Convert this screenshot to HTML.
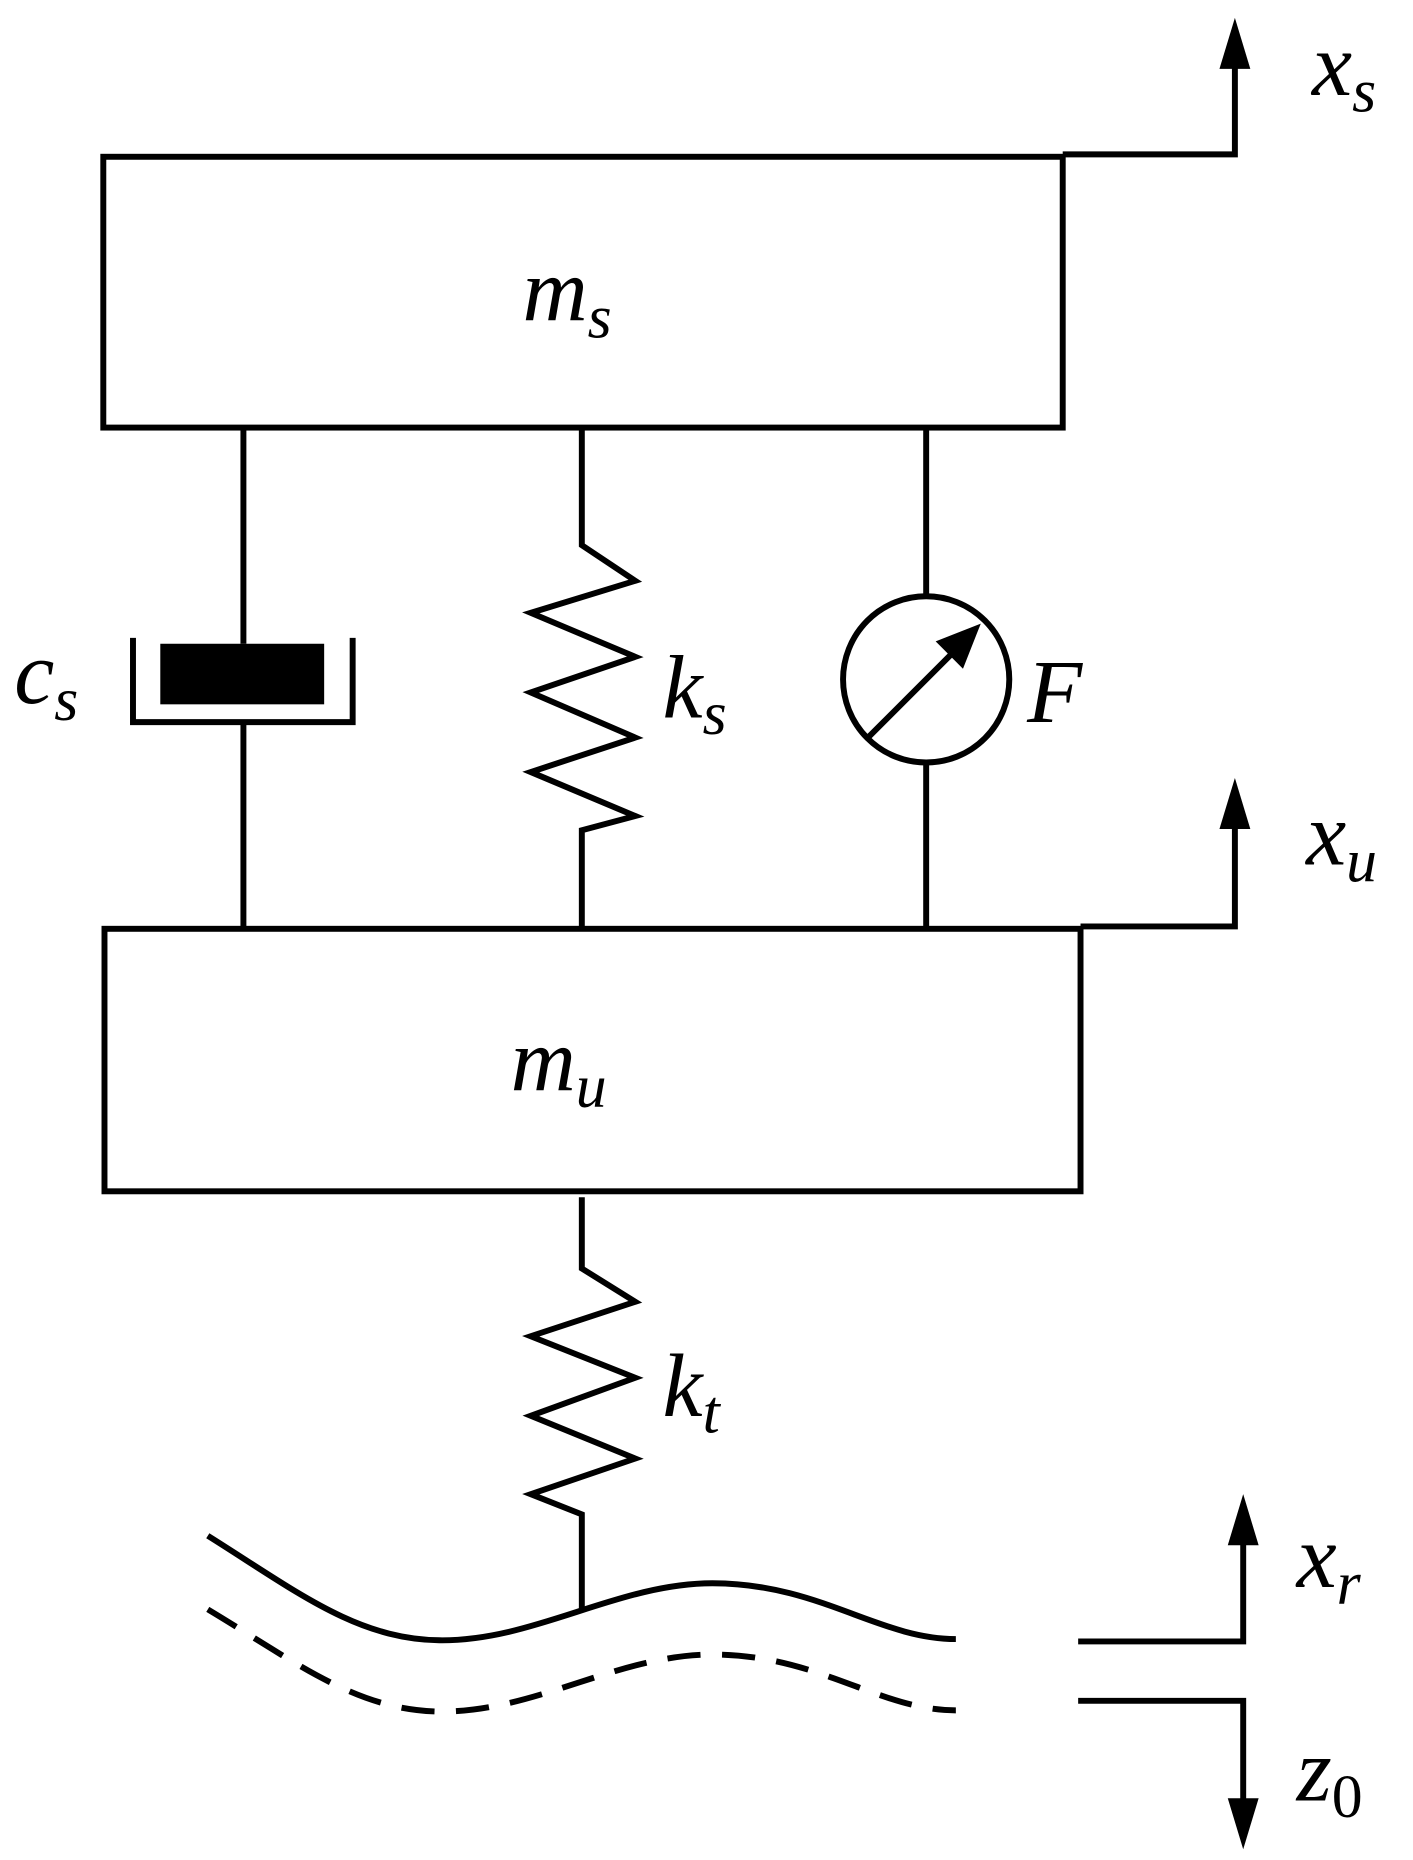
<!DOCTYPE html>
<html><head><meta charset="utf-8"><style>
html,body{margin:0;padding:0;background:#fff;}
svg{display:block;}
text{font-family:"Liberation Serif",serif;font-style:italic;fill:#000;}
</style></head><body>
<svg width="1413" height="1860" viewBox="0 0 1190 1566" preserveAspectRatio="none" xmlns="http://www.w3.org/2000/svg">
<g fill="none" stroke="#000" stroke-width="5" stroke-linejoin="miter">
<rect x="87" y="132" width="808" height="228"/>
<rect x="88" y="782" width="822" height="221"/>
<polyline points="895,130 1040,130 1040,50"/>
<polyline points="910,780 1040,780 1040,690"/>
<line x1="205" y1="360" x2="205" y2="542"/>
<line x1="205" y1="608" x2="205" y2="780"/>
<polyline points="112,537 112,608 297,608 297,537"/>
<polyline points="490,360 490,459 535,489 447,516 535,553 447,583 535,621 447,650 535,687 490,699 490,780"/>
<line x1="780" y1="360" x2="780" y2="502"/>
<line x1="780" y1="642" x2="780" y2="780"/>
<circle cx="780" cy="572" r="70"/>
<line x1="730" y1="622" x2="810" y2="542"/>
<polyline points="490,1008 490,1068 535,1096 447,1125 535,1160 447,1192 535,1228 447,1258 490,1275 490,1355"/>
<path d="M175,1293 C250,1340 300,1380 370,1381 C450,1382 520,1333 600,1333 C690,1333 740,1380 805,1380"/>
<path d="M175,1355 C250,1400 300,1440 370,1441 C450,1442 520,1393 600,1393 C690,1393 740,1440 805,1440" stroke-dasharray="28,18"/>
<polyline points="908,1382 1047,1382 1047,1295"/>
<polyline points="908,1432 1047,1432 1047,1520"/>
</g>
<rect x="135" y="542" width="138" height="51" fill="#000"/>
<polygon points="1040,15 1027,58 1053,58" fill="#000"/>
<polygon points="1040,655 1027,698 1053,698" fill="#000"/>
<polygon points="1047,1258 1034,1301 1060,1301" fill="#000"/>
<polygon points="1047,1557 1034,1514 1060,1514" fill="#000"/>
<polygon points="826,525 788,540 811,563" fill="#000"/>
<g font-size="76">
<text x="440" y="270">m<tspan font-size="52" dy="14">s</tspan></text>
<text x="430" y="918">m<tspan font-size="52" dy="14">u</tspan></text>
<text x="12" y="592">c<tspan font-size="52" dy="14">s</tspan></text>
<text x="558" y="604">k<tspan font-size="52" dy="14">s</tspan></text>
<text x="558" y="1192">k<tspan font-size="52" dy="14">t</tspan></text>
<text x="865" y="608">F</text>
<text x="1105" y="80">x<tspan font-size="52" dy="14">s</tspan></text>
<text x="1100" y="728">x<tspan font-size="52" dy="14">u</tspan></text>
<text x="1092" y="1336">x<tspan font-size="52" dy="14">r</tspan></text>
<text x="1092" y="1516">z<tspan font-size="52" dy="14" font-style="normal">0</tspan></text>
</g>
</svg>
</body></html>
